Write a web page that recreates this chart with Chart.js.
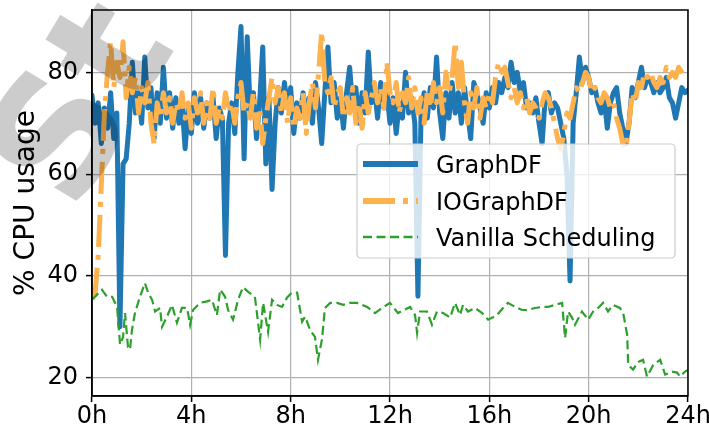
<!DOCTYPE html>
<html>
<head>
<meta charset="utf-8">
<script src="https://cdn.jsdelivr.net/npm/chart.js@4.4.1/dist/chart.umd.min.js"></script>
<style>
  html, body { margin: 0; padding: 0; background: #fff; }
  canvas { display: block; }
</style>
</head>
<body>
<canvas id="cpuChart" width="709" height="430"></canvas>
<script>
// samples every 7.5 minutes (0h .. 24h)
const STEP_H = 0.125;

const graphDF = [
    75.5, 70, 74, 66, 73, 69, 76, 67,
    72, 30, 62, 63, 70, 82, 72, 76,
    70, 83, 73, 77, 67, 76, 70, 81,
    71, 76, 69, 75, 70, 74, 65, 73,
    68, 76, 70, 75, 69, 74, 71, 75,
    67, 73, 71, 44, 70, 74, 68, 80,
    89, 63, 87, 72, 76, 67, 74, 85,
    62, 75, 57, 70, 77, 72, 78, 73,
    77, 68, 74, 71, 76, 72, 75, 70,
    78, 73, 66, 76, 85, 74, 78, 71,
    75, 69, 76, 81, 73, 77, 70, 76,
    72, 84, 74, 77, 71, 78, 73, 76,
    70, 75, 68, 74, 71, 80, 72, 75,
    70, 36, 72, 76, 71, 77, 73, 83,
    72, 67, 76, 71, 78, 72, 76, 70,
    77, 72, 67, 78, 76, 73, 70, 76,
    73, 77, 74, 78, 76, 79, 77, 82,
    78, 80, 76, 78, 73, 74, 72, 75,
    70, 66, 75, 76, 72, 74, 73, 70,
    67, 60, 39, 70, 76, 83, 78, 81,
    79, 76, 77, 74, 72, 75, 69, 74,
    76, 77, 72, 69, 66, 70, 77, 75,
    78, 81, 77, 79, 78, 76, 78, 76,
    77, 79, 75, 74, 71, 74, 77, 76,
    76.5
];

const ioGraphDF = [
    35.5, 36.5, 44, 58, 72, 80, 86, 77,
    82, 79, 86, 75, 81, 76, 79, 72,
    77, 74, 78, 70, 66, 74, 71, 76,
    72, 75, 70, 74, 72, 76, 71, 74,
    69, 75, 72, 76, 70, 74, 71, 77,
    70, 73, 71, 76, 72, 74, 70, 75,
    78, 72, 74, 71, 76, 69, 73, 66,
    71, 75, 79, 74, 77, 72, 76, 70,
    75, 69, 73, 71, 76, 68, 74, 78,
    73, 80, 88, 78, 76, 79, 73, 76,
    77, 71, 75, 72, 77, 70, 74, 69,
    76, 72, 75, 78, 74, 77, 73, 82,
    76, 74, 78, 72, 76, 74, 79, 73,
    77, 72, 75, 70, 76, 73, 78, 74,
    77, 72, 80, 76, 79, 86, 77, 82,
    74, 70, 76, 73, 77, 71, 75, 73,
    76, 74, 79, 82, 80, 81, 78, 75,
    77, 74, 76, 73, 75, 72, 74, 73,
    71, 74, 76, 75, 73, 70, 67, 65,
    68, 72, 71, 74, 77, 76, 78, 80,
    79, 76, 77, 75, 74, 76, 75, 73,
    74, 71, 69, 66, 65, 70, 76, 74,
    78, 77, 80, 79, 80, 78, 77, 79,
    78, 81, 79, 80, 79, 81, 80, 79,
    79
];

const vanillaHours = [
    0, 0.40, 0.60, 0.81, 1.01, 1.13, 1.25, 1.33, 1.45, 1.53,
    1.61, 1.73, 1.93, 2.13, 2.26, 2.42, 2.54, 2.74, 2.82, 3.02,
    3.22, 3.42, 3.62, 3.83, 3.95, 4.07, 4.35, 4.63, 4.83, 5.03,
    5.16, 5.36, 5.48, 5.68, 5.88, 6.08, 6.28, 6.56, 6.77, 6.89,
    7.09, 7.25, 7.45, 7.65, 7.85, 8.05, 8.26, 8.46, 8.58, 8.78,
    8.98, 9.10, 9.26, 9.38, 9.59, 9.87, 10.11, 10.39, 10.67, 11.08,
    11.40, 11.68, 12.00, 12.32, 12.81, 13.01, 13.09, 13.21, 13.49, 13.69,
    13.89, 14.14, 14.42, 14.62, 14.82, 14.94, 15.14, 15.42, 15.71, 15.95,
    16.31, 16.55, 16.75, 17.04, 17.32, 17.56, 17.84, 18.12, 18.36, 18.65,
    18.93, 19.05, 19.17, 19.33, 19.45, 19.73, 19.98, 20.18, 20.38, 20.58,
    20.78, 20.98, 21.26, 21.39, 21.55, 21.59, 21.79, 21.99, 22.19, 22.35,
    22.60, 22.88, 23.08, 23.36, 23.56, 23.68, 23.88, 24.00
];
const vanillaPct = [
    35.3, 37.3, 35.9, 35.9, 33.9, 26.5, 28, 32.7, 26, 25.5,
    29.4, 32.7, 35.9, 38.6, 36.7, 35.3, 33, 33.7, 30, 32,
    34.3, 30.8, 33.7, 33.7, 30.4, 33.3, 34.7, 35, 35.3, 32.3,
    37.3, 35.9, 33.3, 31.4, 35.3, 37.8, 36.9, 35.9, 27.5, 34.7,
    29, 35.3, 34.3, 33.9, 35.7, 36.7, 36.7, 31, 32, 29.4,
    28, 23.5, 27.5, 33.7, 34.7, 34.7, 34.3, 34.7, 34.7, 33.9,
    32.7, 33.7, 34.7, 32.7, 33.9, 32.3, 28.8, 33, 33, 30.4,
    33, 32.7, 31.8, 34.7, 32.3, 34.3, 33, 33.7, 32.7, 31.4,
    32.3, 33.7, 34.7, 33.9, 33.3, 33.3, 33.7, 33.9, 33.9, 34.3,
    34.7, 27.8, 33, 31.8, 30.4, 33, 31.4, 33, 33.7, 34.7,
    33, 34.3, 33.7, 32.7, 28.4, 22.5, 21.6, 23.1, 23.5, 20.2,
    22.5, 23.5, 20.6, 21.2, 21, 20.2, 21.2, 21.5
];

const xTicks = [0, 4, 8, 12, 16, 20, 24];
const yTicks = [20, 40, 60, 80];
const seriesNames = ['GraphDF', 'IOGraphDF', 'Vanilla Scheduling'];
const yLabel = '% CPU usage';
const watermarkText = 'St';

const FONT = 'DejaVu Sans';
const BLUE = '#1f77b4';
const ORANGE = '#feb24e';
const GREEN = '#2ca02c';

function stepPoints(values) {
    return values.map((v, i) => ({ x: i * STEP_H, y: v }));
}

// top + right spines (left/bottom come from the axis borders)
const framePlugin = {
    id: 'frame',
    afterDatasetsDraw(chart) {
        const { ctx, chartArea: a } = chart;
        ctx.save();
        ctx.strokeStyle = '#000';
        ctx.lineWidth = 1.5;
        ctx.strokeRect(a.left, a.top, a.right - a.left, a.bottom - a.top);
        ctx.restore();
    }
};

// matplotlib-like legend box inside the plot
const boxLegend = {
    id: 'boxLegend',
    afterDatasetsDraw(chart) {
        const ctx = chart.ctx;
        const x0 = 357, y0 = 144, w = 318, h = 114;
        ctx.save();
        ctx.beginPath();
        ctx.roundRect(x0, y0, w, h, 4);
        ctx.fillStyle = 'rgba(255,255,255,0.8)';
        ctx.fill();
        ctx.strokeStyle = '#cccccc';
        ctx.lineWidth = 1.2;
        ctx.stroke();

        const rows = [164, 201, 237];
        chart.data.datasets.forEach((ds, i) => {
            const y = rows[i];
            ctx.beginPath();
            ctx.setLineDash(ds.borderDash || []);
            ctx.lineCap = 'butt';
            ctx.strokeStyle = ds.borderColor;
            ctx.lineWidth = ds.legendWidth;
            ctx.moveTo(363, y);
            ctx.lineTo(418, y);
            ctx.stroke();
            ctx.setLineDash([]);
            ctx.fillStyle = '#000';
            ctx.font = '24px "' + FONT + '"';
            ctx.textBaseline = 'alphabetic';
            ctx.fillText(ds.label, 436, y + 9);
        });
        ctx.restore();
    }
};

const watermark = {
    id: 'watermark',
    afterDraw(chart) {
        const ctx = chart.ctx;
        ctx.save();
        ctx.translate(75, 215);
        ctx.rotate(-59 * Math.PI / 180);
        ctx.fillStyle = 'rgba(0,0,0,0.2)';
        ctx.font = 'bold 165px "' + FONT + '"';
        ctx.textBaseline = 'alphabetic';
        ctx.fillText(watermarkText, 0, 0);
        ctx.restore();
    }
};

const ctx = document.getElementById('cpuChart').getContext('2d');

new Chart(ctx, {
    type: 'line',
    data: {
        datasets: [
            {
                label: seriesNames[0],
                data: stepPoints(graphDF),
                borderColor: BLUE,
                borderWidth: 5,
                legendWidth: 6,
                borderJoinStyle: 'round',
                borderCapStyle: 'round',
                order: 3
            },
            {
                label: seriesNames[1],
                data: stepPoints(ioGraphDF),
                borderColor: ORANGE,
                borderWidth: 5,
                legendWidth: 6,
                borderDash: [32, 8, 5, 8],
                borderJoinStyle: 'round',
                borderCapStyle: 'butt',
                order: 2
            },
            {
                label: seriesNames[2],
                data: vanillaHours.map((hr, i) => ({ x: hr, y: vanillaPct[i] })),
                borderColor: GREEN,
                borderWidth: 2.2,
                legendWidth: 2.6,
                borderDash: [9, 4.5],
                borderCapStyle: 'butt',
                order: 1
            }
        ]
    },
    options: {
        responsive: false,
        animation: false,
        devicePixelRatio: 1,
        elements: {
            point: { radius: 0 },
            line: { tension: 0, fill: false }
        },
        layout: { padding: { left: 0, top: 10, right: 21, bottom: 0 } },
        plugins: {
            legend: { display: false },
            tooltip: { enabled: false }
        },
        scales: {
            x: {
                type: 'linear',
                min: 0,
                max: 24,
                afterBuildTicks: s => { s.ticks = xTicks.map(v => ({ value: v })); },
                afterFit: s => { s.height = 34; s.paddingLeft = 0; s.paddingRight = 0; },
                ticks: {
                    callback: v => v + 'h',
                    color: '#000',
                    font: { family: FONT, size: 24 },
                    padding: 0,
                    maxRotation: 0,
                    autoSkip: false
                },
                grid: { color: '#b0b0b0', lineWidth: 1.2, tickLength: 6, tickColor: '#000', tickWidth: 1.5 },
                border: { color: '#000', width: 1.5 }
            },
            y: {
                min: 16.4,
                max: 92.25,
                afterBuildTicks: s => { s.ticks = yTicks.map(v => ({ value: v })); },
                afterFit: s => { s.width = 92; s.paddingTop = 0; s.paddingBottom = 0; },
                ticks: {
                    color: '#000',
                    font: { family: FONT, size: 24 },
                    padding: 8
                },
                title: {
                    display: true,
                    text: yLabel,
                    color: '#000',
                    font: { family: FONT, size: 28 },
                    padding: { top: 10, bottom: 0 }
                },
                grid: { color: '#b0b0b0', lineWidth: 1.2, tickLength: 6, tickColor: '#000', tickWidth: 1.5 },
                border: { color: '#000', width: 1.5 }
            }
        }
    },
    plugins: [framePlugin, boxLegend, watermark]
});
</script>
</body>
</html>
